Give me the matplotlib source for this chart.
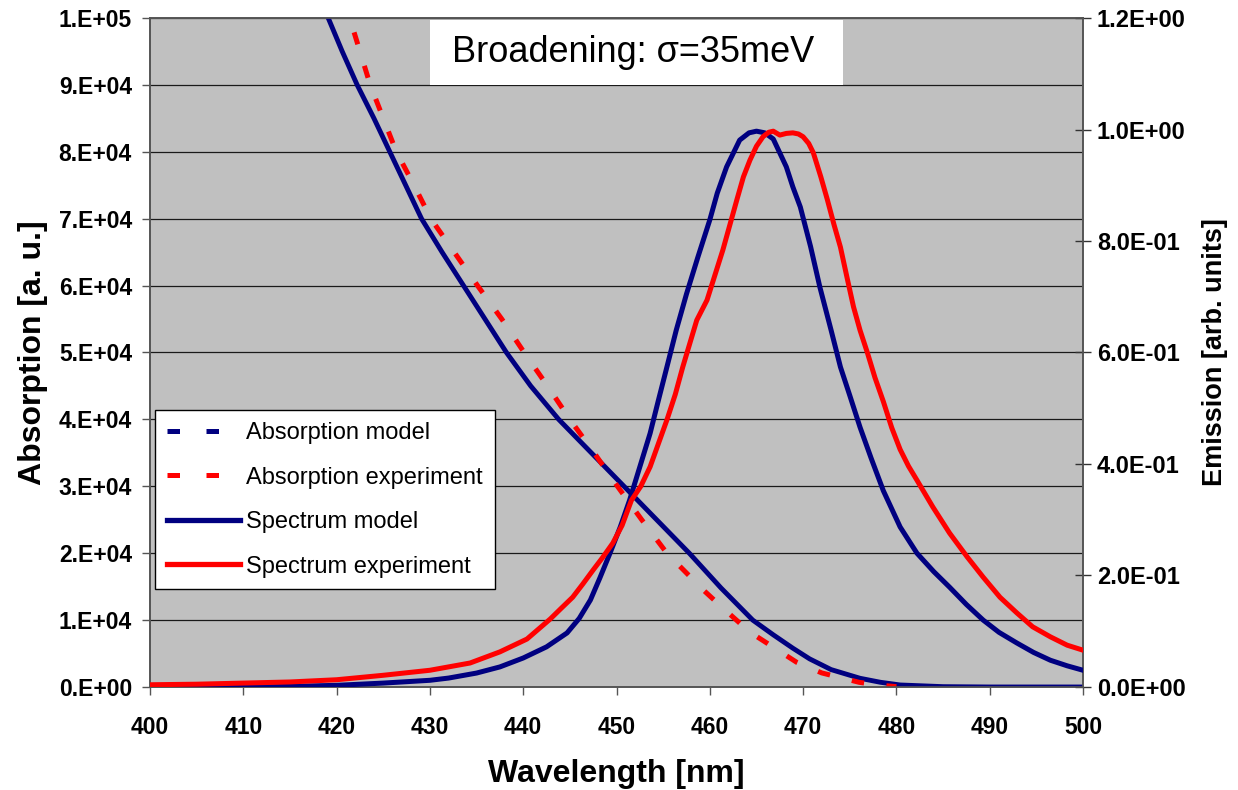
import matplotlib
matplotlib.use('Agg')
import matplotlib.pyplot as plt
from matplotlib.lines import Line2D
from matplotlib.patches import Rectangle
from matplotlib.ticker import FuncFormatter, MultipleLocator

plt.rcParams['font.family'] = ['Liberation Sans', 'DejaVu Sans']

# absorption (left axis)
abs_model_nm = [417.0, 419.1, 420.6, 422.2, 424.0, 425.7, 427.4, 429.1, 431.3, 433.6, 435.9,
                438.2, 440.8, 443.8, 447.3, 450.8, 454.3, 457.8, 461.2, 464.6, 466.8,
                468.9, 470.7, 473.0, 476.1, 478.3, 480.4, 485.0, 490.0, 500.0]
abs_model = [107000, 100000, 95000, 90000, 85000, 80000, 75000, 70000, 65000, 60000, 55000,
             50000, 45000, 40000, 35000, 30000, 25000, 20000, 14800, 10000, 7800,
             5800, 4200, 2600, 1300, 700, 300, 50, 0, 0]

abs_exp_nm = [420.0, 421.4, 422.5, 423.6, 425.0, 426.4, 428.3, 430.1, 432.6, 435.1, 437.7,
              440.1, 442.6, 445.0, 447.6, 450.1, 452.7, 455.4, 459.3, 461.4, 464.3, 466.3,
              469.3, 472.0, 474.3, 476.0, 478.0, 480.0]
abs_exp = [106000, 100000, 95000, 90000, 85000, 80000, 75000, 70000, 65000, 60000, 55000,
           50000, 45000, 40000, 35000, 30000, 25000, 20000, 14500, 11800, 8200, 6400,
           3700, 2100, 1300, 700, 300, 50]

# emission spectra (right axis)
spec_model_nm = [400, 410, 415, 420, 425, 430, 432, 435, 437.5, 440, 442.5, 444.7, 446.0,
                 447.2, 448.2, 449.3, 450.4, 451.4, 452.5, 453.6, 454.5, 455.4, 456.4,
                 457.5, 458.7, 460.0, 460.8, 461.8, 463.2, 464.2, 465.0, 465.9, 466.8,
                 468.2, 468.9, 469.7, 470.8, 471.8, 473.0, 474.0, 475.0, 476.1, 477.3,
                 478.6, 480.4, 482.2, 484.0, 485.7, 487.5, 489.3, 491.0, 492.9, 494.7,
                 496.5, 498.3, 500]
spec_model = [0, 0, 0.001, 0.003, 0.007, 0.012, 0.016, 0.025, 0.036, 0.052, 0.072, 0.097,
              0.123, 0.156, 0.195, 0.24, 0.287, 0.335, 0.395, 0.455, 0.515, 0.574, 0.64,
              0.705, 0.77, 0.838, 0.886, 0.933, 0.981, 0.994, 0.997, 0.994, 0.983,
              0.933, 0.897, 0.861, 0.79, 0.717, 0.64, 0.574, 0.523, 0.466, 0.41,
              0.352, 0.287, 0.24, 0.207, 0.179, 0.148, 0.12, 0.098, 0.079, 0.062,
              0.048, 0.038, 0.03]

spec_exp_nm = [400, 405, 410, 415, 420, 425, 430, 434.3, 437.5, 440.4, 442.9, 444.0, 445.3,
               446.4, 447.5, 448.5, 449.6, 450.6, 451.6, 452.6, 453.6, 454.5, 455.4, 456.3,
               457.1, 458.6, 459.7, 461.4, 462.9, 463.6, 464.3, 465.0, 465.7, 466.3, 466.8,
               467.5, 468.2, 468.9, 469.5, 470.0, 470.6, 471.1, 471.9, 472.6, 473.3, 474.0,
               474.7, 475.4, 476.1, 476.9, 477.7, 478.6, 479.5, 480.4, 481.3, 482.2, 483.9,
               485.7, 487.6, 489.3, 491.1, 492.9, 494.6, 496.5, 498.3, 500]
spec_exp = [0.004, 0.005, 0.007, 0.009, 0.013, 0.021, 0.03, 0.043, 0.063, 0.086, 0.122, 0.14,
            0.161, 0.185, 0.21, 0.232, 0.258, 0.29, 0.335, 0.36, 0.395, 0.437, 0.479, 0.525,
            0.574, 0.658, 0.694, 0.784, 0.874, 0.915, 0.945, 0.97, 0.987, 0.995, 0.997,
            0.99, 0.993, 0.994, 0.992, 0.987, 0.975, 0.958, 0.915, 0.874, 0.83, 0.789,
            0.735, 0.682, 0.64, 0.599, 0.555, 0.512, 0.465, 0.426, 0.396, 0.371, 0.323,
            0.276, 0.233, 0.197, 0.161, 0.133, 0.108, 0.09, 0.075, 0.066]

NAVY = '#000080'
RED = '#FF0000'
DASH = (0, (2.5, 4.5))
LEG_DASH = (0, (2.5, 5.3))


def left_fmt(v, pos):
  m, e = f"{v:.0e}".split('e')
  return f"{m}.E{e[0]}{int(e[1:]):02d}"


def right_fmt(v, pos):
  return f"{v:.1e}".replace('e', 'E')


fig = plt.figure(figsize=(12.38, 7.90), dpi=100)
ax1 = fig.add_axes([0.1212, 0.1304, 0.7536, 0.8468])
ax2 = ax1.twinx()

ax1.set_facecolor('#C0C0C0')
ax1.plot(abs_model_nm, abs_model, color=NAVY, lw=3.5, zorder=3)
ax1.plot(abs_exp_nm, abs_exp, color=RED, lw=3.6, linestyle=DASH, zorder=4)

ax2.plot(spec_model_nm, spec_model, color=NAVY, lw=3.6, zorder=3)
ax2.plot(spec_exp_nm, spec_exp, color=RED, lw=3.6, zorder=4)

ax1.set_xlim(400, 500)
ax1.set_ylim(0, 100000)
ax2.set_ylim(0, 1.2)
ax1.xaxis.set_major_locator(MultipleLocator(10))
ax1.yaxis.set_major_locator(MultipleLocator(10000))
ax2.yaxis.set_major_locator(MultipleLocator(0.2))
ax1.yaxis.set_major_formatter(FuncFormatter(left_fmt))
ax2.yaxis.set_major_formatter(FuncFormatter(right_fmt))

ax1.grid(axis='y', color='#1a1a1a', lw=0.9, zorder=1)
ax1.set_axisbelow(True)

ax1.tick_params(axis='x', direction='out', length=6, width=1, color='#555555',
                labelsize=16.5, pad=15)
ax1.tick_params(axis='y', direction='out', length=6, width=1, color='#555555',
                labelsize=16.5, pad=7)
ax2.tick_params(axis='y', direction='inout', length=12, width=1, color='#333333',
                labelsize=17, pad=4)
for lab in ax1.get_xticklabels() + ax1.get_yticklabels() + ax2.get_yticklabels():
  lab.set_fontweight('bold')

for ax in (ax1, ax2):
  for s in ax.spines.values():
    s.set_color('#555555')
    s.set_linewidth(1.2)

ax1.set_xlabel('Wavelength [nm]', fontsize=23, fontweight='bold', labelpad=14)
ax1.set_ylabel('Absorption [a. u.]', fontsize=23, fontweight='bold', labelpad=8)
ax2.set_ylabel('Emission [arb. units]', fontsize=19.5, fontweight='bold', labelpad=12)

# note box at the top
ax2.add_patch(Rectangle((0.3001, 0.8999), 0.4427, 0.0972, transform=ax2.transAxes,
                        facecolor='white', edgecolor='none', zorder=5))
ax2.text(0.518, 0.948, 'Broadening: σ=35meV', transform=ax2.transAxes, fontsize=26,
         ha='center', va='center', zorder=6)

handles = [
  Line2D([], [], color=NAVY, lw=3.6, linestyle=LEG_DASH),
  Line2D([], [], color=RED, lw=3.6, linestyle=LEG_DASH),
  Line2D([], [], color=NAVY, lw=3.8),
  Line2D([], [], color=RED, lw=3.8),
]
labels = ['Absorption model', 'Absorption experiment', 'Spectrum model', 'Spectrum experiment']
leg = ax2.legend(handles, labels, loc='lower left', bbox_to_anchor=(0.005, 0.146),
                 fontsize=17, frameon=True, fancybox=False, framealpha=1,
                 edgecolor='black', handlelength=3.1, handletextpad=0.27,
                 labelspacing=0.95, borderpad=0.5, borderaxespad=0)
leg.get_frame().set_linewidth(1)
leg.set_zorder(7)

plt.savefig('out.png', dpi=100)
